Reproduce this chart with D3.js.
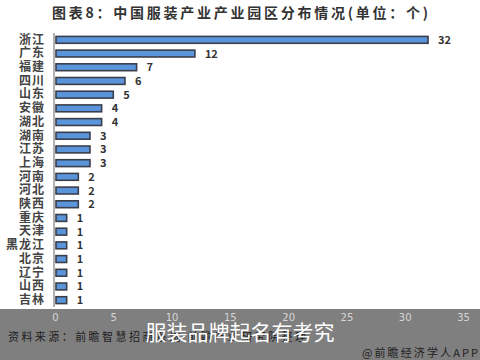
<!DOCTYPE html>
<html>
<head>
<meta charset="utf-8">
<script src="https://cdn.jsdelivr.net/npm/d3@7"></script>
<style>
body { margin: 0; background: #fff; }
text { font-family: "Noto Sans CJK SC", "DejaVu Sans", sans-serif; }
</style>
</head>
<body>
<svg id="chart" width="480" height="360"></svg>
<script>
var provinces = ["浙江", "广东", "福建", "四川", "山东", "安徽", "湖北", "湖南", "江苏", "上海",
  "河南", "河北", "陕西", "重庆", "天津", "黑龙江", "北京", "辽宁", "山西", "吉林"];
var counts = [32, 12, 7, 6, 5, 4, 4, 3, 3, 3, 2, 2, 2, 1, 1, 1, 1, 1, 1, 1];
var xTicks = [0, 5, 10, 15, 20, 25, 30, 35];

var title = "图表8：中国服装产业产业园区分布情况(单位：个)";
var source = "资料来源：前瞻智慧招商系统 前瞻产业研究院整理";
var brand = "@前瞻经济学人APP";
var caption = "服装品牌起名有考究";

function draw() {
  var svg = d3.select("#chart");
  var left = 55, right = 463, top = 33, bottom = 307;

  var xScale = d3.scaleLinear().domain([0, 35]).range([left, right]);
  var yScale = d3.scaleBand().domain(provinces).range([top, bottom]).paddingInner(0.5).paddingOuter(0.25);

  svg.append("text")
    .attr("x", 52).attr("y", 18)
    .attr("textLength", 376)
    .style("font-size", "14px").style("font-weight", "bold").style("fill", "#333")
    .text(title);

  // bars
  svg.append("g").selectAll("rect")
    .data(provinces)
    .enter().append("rect")
    .attr("x", left + 1)
    .attr("y", function(d) { return yScale(d); })
    .attr("width", function(d, i) { return xScale(counts[i]) - left - 1; })
    .attr("height", yScale.bandwidth())
    .style("fill", "#5a95dc")
    .style("stroke", "#3a3e4a")
    .style("stroke-width", 1.6);

  // value labels
  svg.append("g").selectAll("text")
    .data(provinces)
    .enter().append("text")
    .attr("x", function(d, i) { return xScale(counts[i]) + 10; })
    .attr("y", function(d) { return yScale(d) + yScale.bandwidth() / 2 + 4; })
    .style("font-size", "11px").style("font-weight", "bold").style("fill", "#333")
    .text(function(d, i) { return counts[i]; });

  // category axis
  var yAxis = svg.append("g")
    .attr("transform", "translate(" + (left - 1) + ",0)")
    .call(d3.axisLeft(yScale).tickSize(0).tickPadding(9));
  yAxis.select(".domain").attr("d", "M0," + top + "V" + bottom).style("stroke", "#666");
  yAxis.selectAll("text")
    .style("font-size", "12px").style("font-weight", "bold").style("fill", "#444")
    .style("letter-spacing", "1px")
    .style("font-family", "'Noto Sans CJK SC', sans-serif");

  // dimmed footer band
  svg.append("rect")
    .attr("x", 0).attr("y", 309).attr("width", 480).attr("height", 51)
    .style("fill", "#000").style("opacity", 0.5);

  var xAxis = svg.append("g")
    .attr("transform", "translate(0,311)")
    .call(d3.axisBottom(xScale).tickValues(xTicks).tickSize(0).tickPadding(3));
  xAxis.select(".domain").remove();
  xAxis.selectAll("text")
    .style("font-size", "10px").style("fill", "#d6d6d6")
    .style("font-family", "'DejaVu Sans', sans-serif");

  svg.append("text")
    .attr("x", 8).attr("y", 341)
    .attr("textLength", 298)
    .style("font-size", "11px").style("fill", "#1e1e1e")
    .text(source);

  svg.append("text")
    .attr("x", 478).attr("y", 357)
    .attr("text-anchor", "end")
    .attr("textLength", 116)
    .style("font-size", "11px").style("fill", "#1e1e1e")
    .text(brand);

  svg.append("text")
    .attr("x", 240).attr("y", 340)
    .attr("text-anchor", "middle")
    .style("font-size", "21px").style("fill", "#fff")
    .text(caption);
}

draw();
</script>
</body>
</html>
